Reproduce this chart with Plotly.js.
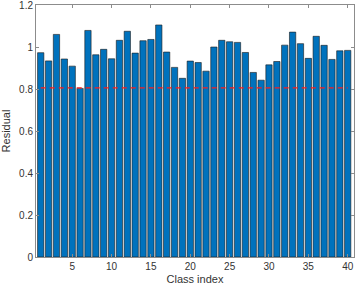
<!DOCTYPE html>
<html><head><meta charset="utf-8">
<script src="https://cdn.plot.ly/plotly-3.0.1.min.js"></script>
<style>html,body{margin:0;padding:0;background:#fff}#chart{width:359px;height:289px}</style>
</head><body><div id="chart"></div>
<script>
const classIndex = Array.from({length: 40}, (_, i) => i + 1);
const residual = [0.973, 0.934, 1.060, 0.943, 0.909, 0.803, 1.079, 0.963, 0.989, 0.944,
                  1.032, 1.075, 0.971, 1.030, 1.036, 1.105, 0.976, 0.903, 0.851, 0.933,
                  0.926, 0.885, 1.000, 1.032, 1.025, 1.022, 0.974, 0.879, 0.842, 0.915,
                  0.931, 1.009, 1.071, 1.016, 0.946, 1.051, 1.008, 0.941, 0.982, 0.984];
const thresholdX = [1, 40];
const thresholdY = [0.805, 0.805];
const yTicks = [0, 0.2, 0.4, 0.6, 0.8, 1, 1.2];
const yTickText = ['0', '0.2', '0.4', '0.6', '0.8', '1', '1.2'];
const xTicks = [5, 10, 15, 20, 25, 30, 35, 40];

const traces = [
  {type: 'bar', x: classIndex, y: residual, width: 0.8,
   marker: {color: '#0072BD', line: {color: '#1a1a1a', width: 0.6}}, hoverinfo: 'none'},
  {type: 'scatter', mode: 'lines', x: thresholdX, y: thresholdY,
   line: {color: '#ff1a1a', width: 1.2, dash: '5px,4px'}, hoverinfo: 'none'}
];
const axisCommon = {showgrid: false, zeroline: false, showline: true, linecolor: '#8c8c8c', linewidth: 1,
  mirror: 'allticks', ticks: 'inside', ticklen: 3, tickcolor: '#8c8c8c', ticklabeloverflow: 'allow',
  tickfont: {family: 'Arial, Liberation Sans, sans-serif', size: 10, color: '#333'}};
const layout = {
  width: 359, height: 289, showlegend: false,
  paper_bgcolor: '#fff', plot_bgcolor: '#fff',
  margin: {l: 36, r: 5, t: 5, b: 32},
  xaxis: Object.assign({}, axisCommon, {range: [0.4, 40.8], tickvals: xTicks,
    title: {text: 'Class index', font: {family: 'Arial, Liberation Sans, sans-serif', size: 11, color: '#333'}, standoff: 4}}),
  yaxis: Object.assign({}, axisCommon, {range: [0, 1.2001], tickvals: yTicks, ticktext: yTickText,
    title: {text: 'Residual', font: {family: 'Arial, Liberation Sans, sans-serif', size: 11, color: '#333'}, standoff: 6}}),
  bargap: 0.2
};
Plotly.newPlot('chart', traces, layout, {displayModeBar: false, staticPlot: true});
</script></body></html>
